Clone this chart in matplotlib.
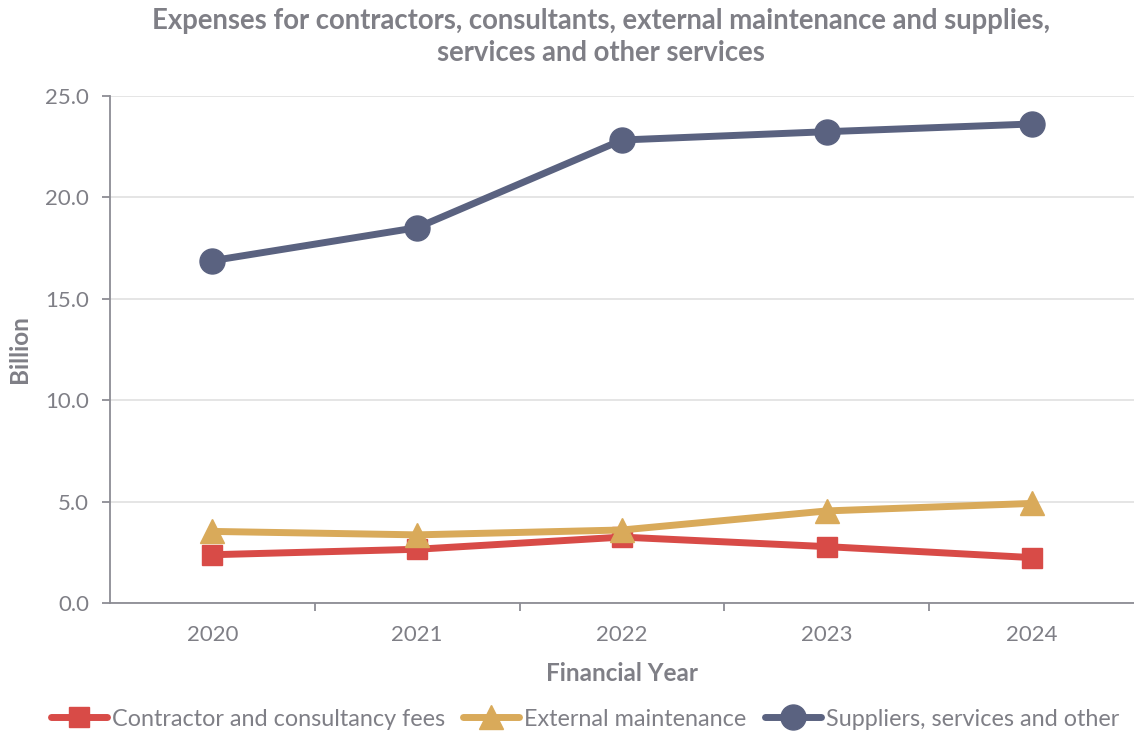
import numpy as np
import matplotlib.pyplot as plt

# --- data (billions) ---
years = ["2020", "2021", "2022", "2023", "2024"]
contractor_fees = [2.38, 2.65, 3.25, 2.78, 2.24]
external_maintenance = [3.53, 3.36, 3.60, 4.54, 4.91]
suppliers_services = [16.88, 18.51, 22.83, 23.24, 23.62]

series_labels = [
    "Contractor and consultancy fees",
    "External maintenance",
    "Suppliers, services and other",
]

# --- styling ---
text_grey = "#7f7f86"
axis_grey = "#8c8c94"
grid_grey = "#e0e0e0"
colors = ["#d84b47", "#d9aa5a", "#5a6280"]
markers = ["s", "^", "o"]
marker_sizes = [14, 17, 18]

plt.rcParams["font.family"] = ["Lato", "DejaVu Sans"]

fig = plt.figure(figsize=(11.34, 7.34), dpi=100)
ax = fig.add_axes([110 / 1134, 1 - 603 / 734, 1024 / 1134, 507 / 734])

x = np.arange(len(years))
for values, label, color, marker, ms in zip(
    [contractor_fees, external_maintenance, suppliers_services],
    series_labels, colors, markers, marker_sizes,
):
    ax.plot(x, values, color=color, linewidth=5, marker=marker,
            markersize=ms, label=label, solid_capstyle="round", zorder=3)

ax.set_xlim(-0.5, len(years) - 0.5)
ax.set_ylim(0, 25)
ax.set_yticks(np.arange(0, 25.1, 5))
ax.set_yticklabels([f"{v:.1f}" for v in np.arange(0, 25.1, 5)])
ax.set_xticks(x)
ax.set_xticklabels(years)
ax.set_xticks(np.arange(0.5, len(years) - 1, 1), minor=True)

ax.grid(axis="y", color=grid_grey, linewidth=1.2, zorder=0)
ax.set_axisbelow(True)

for side in ["top", "right"]:
    ax.spines[side].set_visible(False)
for side in ["left", "bottom"]:
    ax.spines[side].set_color(axis_grey)
    ax.spines[side].set_linewidth(1.3)

ax.tick_params(axis="y", colors=axis_grey, labelcolor=text_grey,
               labelsize=16, length=6, width=1.3, pad=9)
ax.tick_params(axis="x", which="major", length=0, labelcolor=text_grey,
               labelsize=16, pad=16)
ax.tick_params(axis="x", which="minor", colors=axis_grey, length=6, width=1.3)

ax.set_xlabel("Financial Year", fontsize=17.5, fontweight="bold",
              color=text_grey, labelpad=12)
ax.set_ylabel("Billion", fontsize=17.5, fontweight="bold",
              color=text_grey, labelpad=10)

fig.text(601 / 1134, 1 - 37 / 734,
         "Expenses for contractors, consultants, external maintenance and supplies,\nservices and other services",
         ha="center", va="center", fontsize=19.8, fontweight="bold",
         color=text_grey, linespacing=1.3)

fig.legend(loc="center", bbox_to_anchor=(585 / 1134, 1 - 719 / 734),
           ncol=3, frameon=False, fontsize=16.8, labelcolor=text_grey,
           handlelength=2.4, handletextpad=0.2, columnspacing=0.8)

fig.savefig("out.png", dpi=100)
